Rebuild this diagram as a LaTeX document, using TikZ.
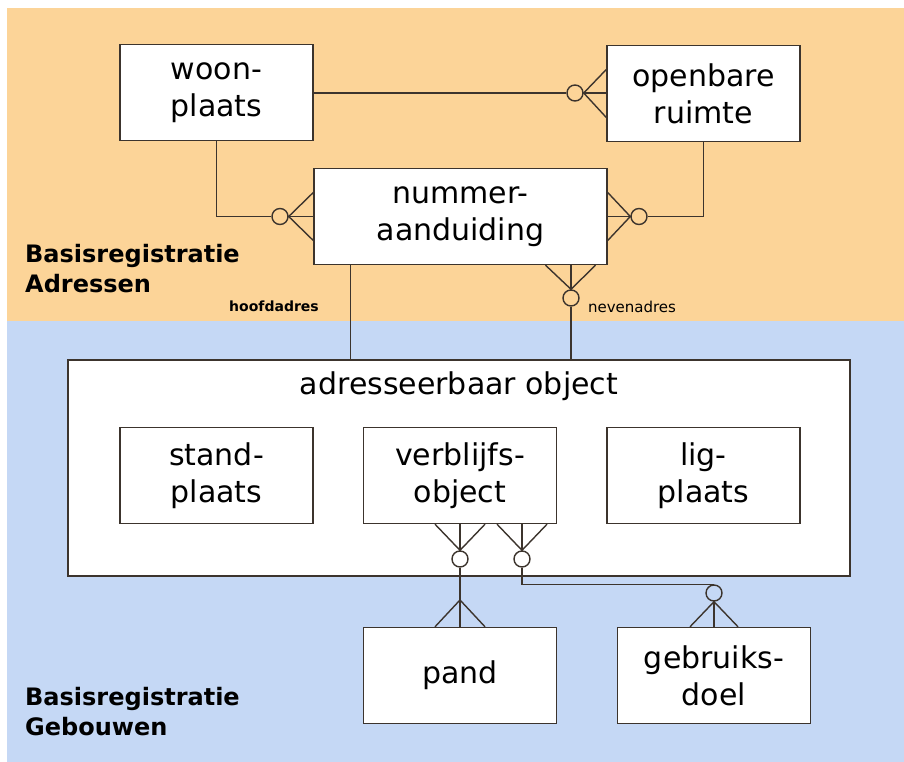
\documentclass[tikz,border=0pt]{standalone}
\usepackage{fontspec}
\setmainfont{DejaVu Sans}
\usetikzlibrary{positioning,calc}
\definecolor{bgOrange}{RGB}{252,212,152}
\definecolor{bgBlue}{RGB}{197,216,245}
\definecolor{lnDark}{RGB}{60,52,45}

\begin{document}
\begin{tikzpicture}[x=1pt, y=-1pt,
  entity/.style={draw=lnDark, line width=1.4pt, fill=white, minimum width=193pt, minimum height=96pt, inner sep=0pt, align=center, font=\fontsize{30}{37}\selectfont},
  ring/.style={circle, draw=lnDark, line width=1.4pt, minimum size=16pt, inner sep=0pt},
  link/.style={draw=lnDark, line width=1.4pt},
  region/.style={anchor=west, inner sep=0pt, align=left, font=\bfseries\fontsize{24}{30}\selectfont},
  role/.style={inner sep=0pt, font=\fontsize{14}{16}\selectfont}]
  \useasboundingbox (0,0) rectangle (904,762);

  % Background bands
  \fill[bgOrange] (7,8) rectangle (904,321);
  \fill[bgBlue] (7,321) rectangle (904,762);

  % Basisregistratie Adressen
  \node[entity] (wp) at (216.5,92.5) {woon-\\plaats};
  \node[entity] (opr) at (703.5,93.5) {openbare\\ruimte};
  \node[entity, minimum width=293pt] (nad) at (460.5,216.5) {nummer-\\aanduiding};
  \node[region] (lblA) at (25,269) {Basisregistratie\\Adressen};

  % Basisregistratie Gebouwen
  \node[entity, minimum width=782pt, minimum height=216pt] (ao) at (459,468) {};
  \node[font=\fontsize{30}{37}\selectfont, inner sep=0pt] (aoTitle) at ($(ao.north)+(0,27)$) {adresseerbaar object};
  \node[entity] (sp) at (216.5,475.5) {stand-\\plaats};
  \node[entity] (vbo) at (460,475.5) {verblijfs-\\object};
  \node[entity] (lp) at (703.5,475.5) {lig-\\plaats};
  \node[entity] (pand) at (460,675.5) {pand};
  \node[entity] (gd) at (714,675.5) {gebruiks-\\doel};
  \node[region] (lblG) at (25,712) {Basisregistratie\\Gebouwen};

  % woonplaats -- openbare ruimte
  \node[ring] (c1) at (575,93) {};
  \draw[link] (wp.east |- c1) -- (c1.west);
  \draw[link] ($(opr.west)+(0,-24)$) -- (c1.east) -- ($(opr.west)+(0,24)$);
  \draw[link] (c1.east) -- (c1.east -| opr.west);

  % woonplaats -- nummeraanduiding
  \node[ring] (c2) at (280,216.5) {};
  \draw[link] (wp.south) |- (c2.west);
  \draw[link] ($(nad.west)+(0,-24)$) -- (c2.east) -- ($(nad.west)+(0,24)$);
  \draw[link] (c2.east) -- (nad.west);

  % openbare ruimte -- nummeraanduiding
  \node[ring] (c3) at (639,216.5) {};
  \draw[link] (opr.south) |- (c3.east);
  \draw[link] ($(nad.east)+(0,-24)$) -- (c3.west) -- ($(nad.east)+(0,24)$);
  \draw[link] (c3.west) -- (nad.east);

  % hoofdadres
  \draw[link] ([xshift=-110pt]nad.south) -- ([xshift=-110pt]nad.south |- ao.north);
  \node[role, font=\bfseries\fontsize{14}{16}\selectfont] (hoofd) at (274,306) {hoofdadres};

  % nevenadres
  \node[ring] (c4) at (571,298) {};
  \draw[link] ([xshift=85pt]nad.south) -- (c4.north) -- ([xshift=135pt]nad.south);
  \draw[link] (c4.north) -- (c4.north |- nad.south);
  \draw[link] (c4.south) -- (c4.south |- ao.north);
  \node[role, font=\fontsize{15}{16}\selectfont] (neven) at (632,307) {nevenadres};

  % verblijfsobject -- pand
  \node[ring] (c5) at (460,559) {};
  \coordinate (fp) at (460,600);
  \draw[link] ([xshift=-25pt]vbo.south) -- (c5.north) -- ([xshift=25pt]vbo.south);
  \draw[link] (c5.north) -- (vbo.south);
  \draw[link] (c5.south) -- (pand.north);
  \draw[link] ([xshift=-25pt]pand.north) -- (fp) -- ([xshift=25pt]pand.north);

  % verblijfsobject -- gebruiksdoel
  \node[ring] (c6) at (522,559) {};
  \node[ring] (c7) at (714,593) {};
  \draw[link] ([xshift=37pt]vbo.south) -- (c6.north) -- ([xshift=87pt]vbo.south);
  \draw[link] (c6.north) -- (c6.north |- vbo.south);
  \draw[link] (c6.south) |- (c7.north);
  \draw[link] ([xshift=-24pt]gd.north) -- (c7.south) -- ([xshift=24pt]gd.north);
  \draw[link] (c7.south) -- (gd.north);
\end{tikzpicture}
\end{document}
